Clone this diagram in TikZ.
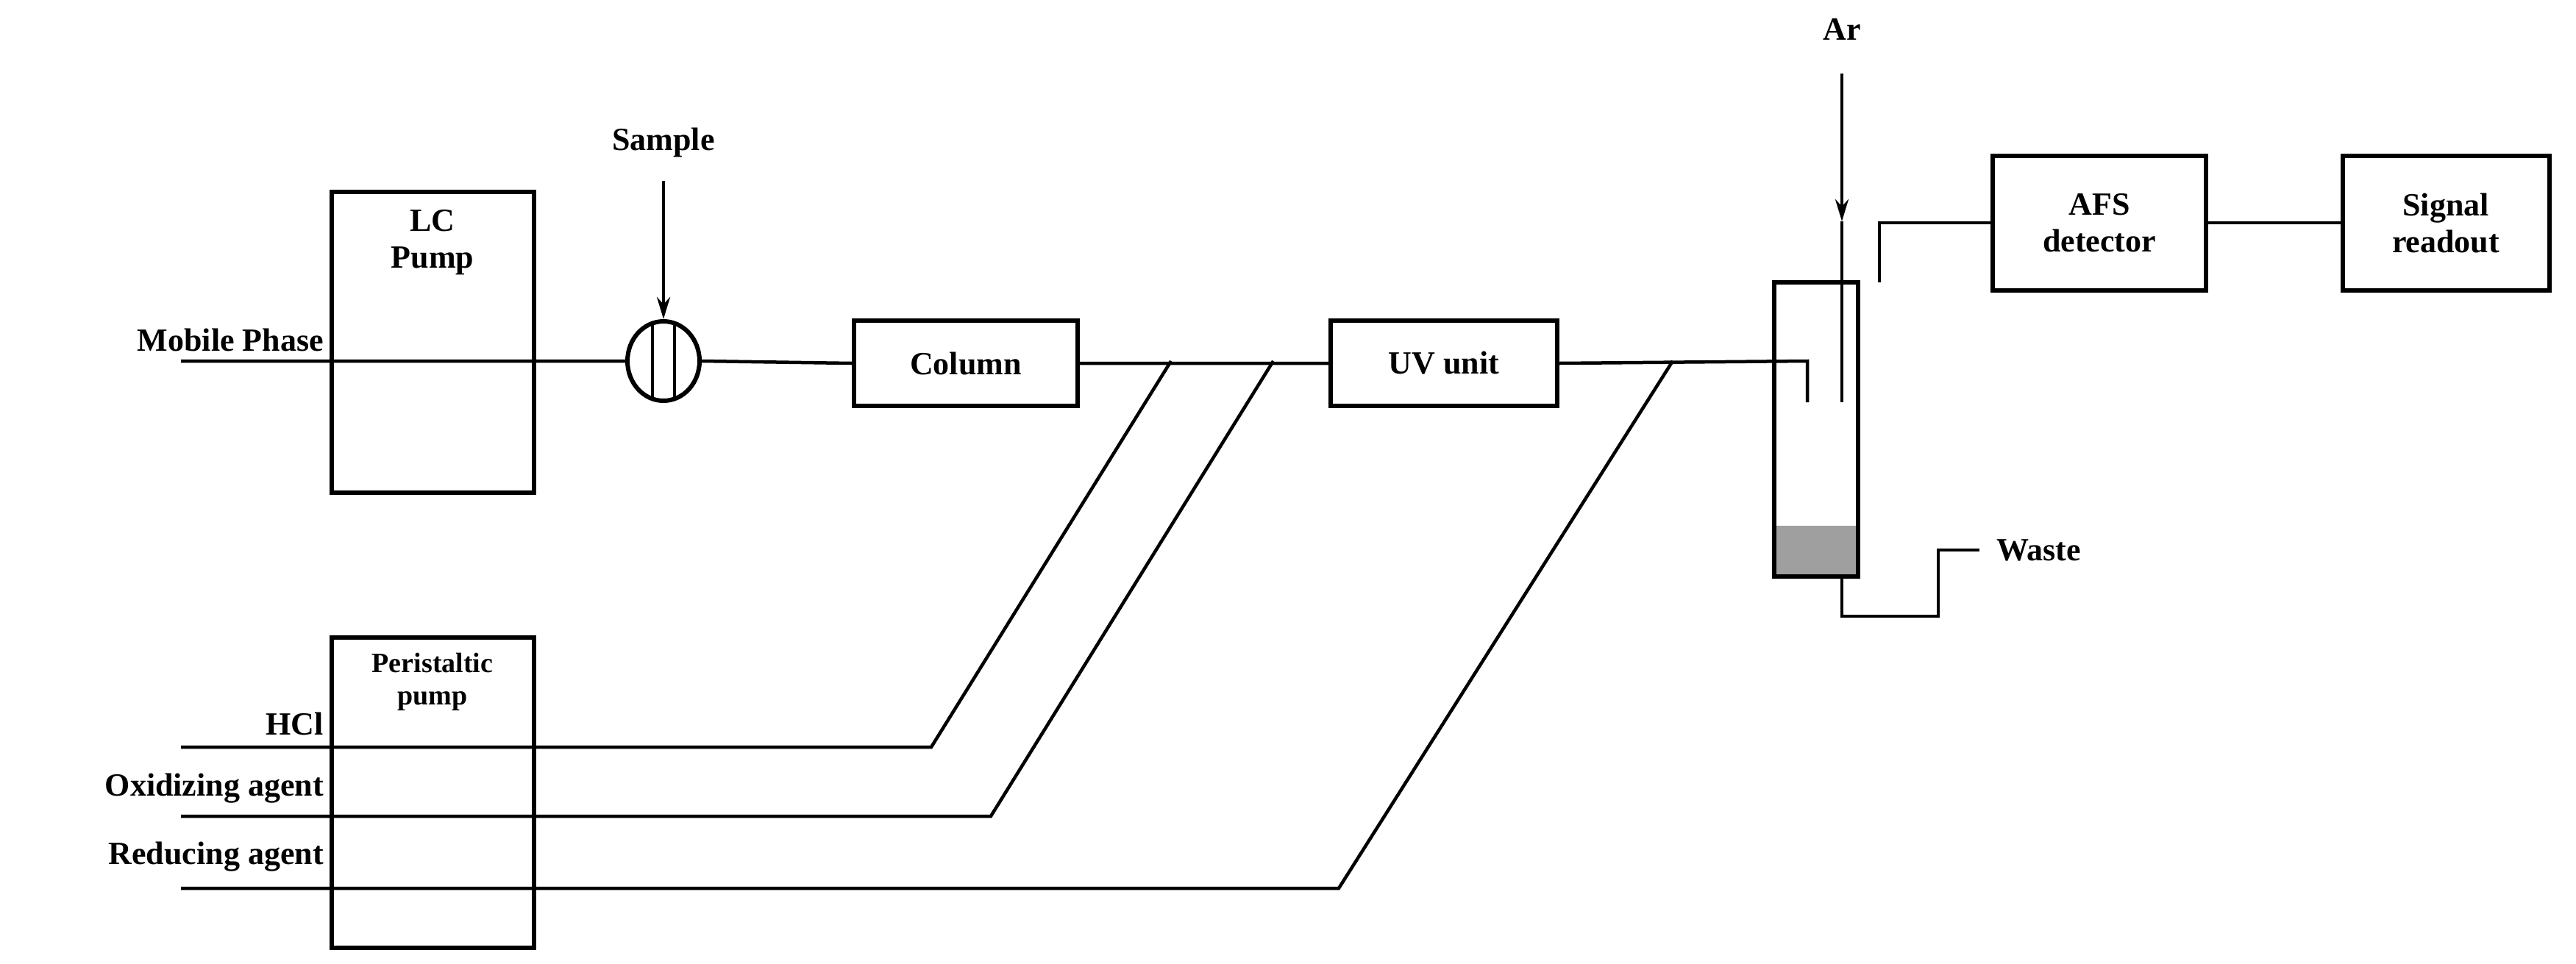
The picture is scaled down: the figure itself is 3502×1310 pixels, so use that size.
\documentclass[tikz,border=0pt]{standalone}
\usepackage{fontspec}
\setmainfont{Liberation Serif}
\usetikzlibrary{arrows.meta,shapes.geometric}
\begin{document}
\begin{tikzpicture}[x=1pt,y=-1pt,
  lbl/.style={font=\fontsize{44}{50}\selectfont\bfseries,inner sep=0pt},
  box/.style={draw,line width=6pt,inner sep=0pt,align=center,font=\fontsize{44}{50}\selectfont\bfseries},
  pipe/.style={line width=4.5pt},
  arr/.style={pipe,-{Stealth[length=30pt,width=18pt]}}]
\useasboundingbox (0,0) rectangle (3502,1310);
% LC pump
\node[box,minimum width=275,minimum height=409] (lc) at (588,465) {};
\node[lbl,align=center] (lct) at (588,330) {LC\\Pump};
\coordinate (mpS) at (246,491);
\node[lbl,anchor=south east] (mp) at (440,478) {Mobile Phase};
% valve
\node[draw,line width=6pt,ellipse,minimum width=98,minimum height=108,inner sep=0pt] (v) at (902,491) {};
\draw[pipe] (887,440) -- (887,542) (917,440) -- (917,542);
\node[lbl] (sl) at (902,194) {Sample};
\coordinate (sS) at (902,246);
\draw[arr] (sS) -- (v.north);
% column, UV
\node[box,minimum width=304,minimum height=116] (col) at (1313,494) {Column};
\node[box,minimum width=308,minimum height=116] (uv) at (1963,494) {UV unit};
\coordinate (j1) at (1592,491);
\coordinate (j2) at (1731,491);
\coordinate (j3) at (2274,491);
\draw[pipe] (mpS) -- (v.west) (v.east) -- (col.west) (col.east) -- (uv.west);
\coordinate (inl) at (2457,491);
\coordinate (inlE) at (2457,547);
\draw[pipe] (uv.east) -- (inl) -- (inlE);
% separator
\node[draw,line width=6pt,minimum width=114,minimum height=400,inner sep=0pt] (sep) at (2469,584) {};
\fill[gray!75] (2415,715) rectangle (2523,781);
\node[lbl] (ar) at (2504,40) {Ar};
\coordinate (arS) at (2504,100);
\coordinate (arM) at (2504,301);
\coordinate (arE) at (2504,547);
\draw[arr] (arS) -- (arM);
\draw[pipe] (arM) -- (arE);
% detector
\node[box,minimum width=290,minimum height=183] (afs) at (2854,303) {AFS\\detector};
\node[box,minimum width=281,minimum height=183] (sig) at (3325,303) {Signal\\readout};
\coordinate (out) at (2555,384);
\draw[pipe] (out) |- (afs.west);
\draw[pipe] (afs.east) -- (sig.west);
% waste
\coordinate (wB) at (2504,784);
\coordinate (wE) at (2691,748);
\draw[pipe] (wB) -- (2504,838) -- (2635,838) -- (2635,748) -- (wE);
\node[lbl,anchor=west] (wl) at (2714,748) {Waste};
% peristaltic
\node[box,minimum width=275,minimum height=422] (pp) at (588,1078) {};
\node[lbl,align=center,font=\fontsize{38}{44}\selectfont\bfseries] (ppt) at (588,927) {Peristaltic\\pump};
\coordinate (hS) at (246,1016); \coordinate (hB) at (1266,1016);
\coordinate (oS) at (246,1110); \coordinate (oB) at (1347,1110);
\coordinate (rS) at (246,1208); \coordinate (rB) at (1820,1208);
\draw[pipe] (hS) -- (hB) -- (j1);
\draw[pipe] (oS) -- (oB) -- (j2);
\draw[pipe] (rS) -- (rB) -- (j3);
\node[lbl,anchor=south east] (hl) at (440,1000) {HCl};
\node[lbl,anchor=south east] (ol) at (440,1092) {Oxidizing agent};
\node[lbl,anchor=south east] (rl) at (440,1185) {Reducing agent};
\end{tikzpicture}
\end{document}
